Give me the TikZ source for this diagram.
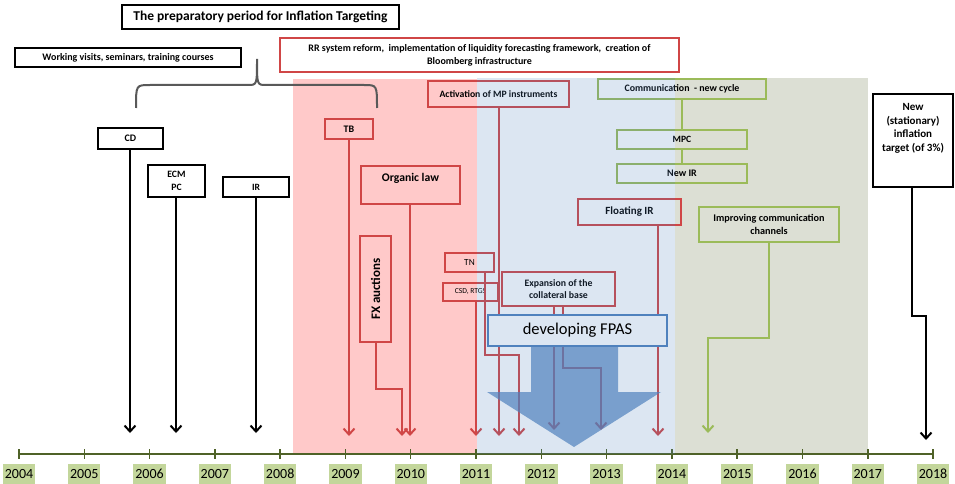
\documentclass[tikz,border=0pt]{standalone}
\usepackage{fontspec}
\setmainfont{Carlito}
\usetikzlibrary{arrows.meta}
\definecolor{rl}{RGB}{208,70,70}
\definecolor{gl}{RGB}{155,187,89}
\definecolor{bl}{RGB}{79,129,189}
\definecolor{pinkbg}{RGB}{255,201,201}
\definecolor{graybg}{RGB}{220,223,212}
\definecolor{fpasbg}{RGB}{220,230,242}
\definecolor{axc}{RGB}{79,98,40}
\definecolor{ylc}{RGB}{195,214,155}
\definecolor{brc}{RGB}{89,89,89}
\tikzset{
  box/.style={draw, line width=2pt, inner sep=0pt, align=center, font=\bfseries\fontsize{9.6}{11}\selectfont},
  bbox/.style={box, draw=black},
  rbox/.style={box, draw=rl},
  gbox/.style={box, draw=gl},
  tip/.style={-{Straight Barb[length=6pt,width=11pt]}},
  barr/.style={tip, line width=2pt, draw=black},
  rarr/.style={tip, line width=2pt, draw=rl},
  garr/.style={tip, line width=2pt, draw=gl},
  yl/.style={fill=ylc, inner xsep=2pt, inner ysep=0pt, minimum height=20pt, font=\fontsize{14}{14}\selectfont},
}
\begin{document}
\begin{tikzpicture}[x=1pt,y=-1pt]
\useasboundingbox (0,0) rectangle (955,484);
% background periods
\fill[pinkbg] (293,79) rectangle (477,454);
\fill[graybg] (675,78) rectangle (868,454);

% timeline
\coordinate (ax0) at (19,454);
\coordinate (ax1) at (933,454);
\draw[axc, line width=1.5pt] (ax0) -- (ax1);
\foreach \yr [count=\i from 0] in {2004,...,2018}{
  \draw[axc, line width=1.5pt] ({19+\i*65.29},449) -- ({19+\i*65.29},459);
  \node[yl] (y\yr) at ({19+\i*65.29},474) {\yr};
}

% top boxes
\node[bbox, minimum width=277pt, minimum height=24pt, font=\bfseries\fontsize{13.5}{15}\selectfont] (title) at (260.5,17) {The preparatory period for Inflation Targeting};
\node[bbox, minimum width=226pt, minimum height=19pt, font=\bfseries\fontsize{10}{11}\selectfont] (visits) at (128,57.5) {Working visits, seminars, training courses};
\node[rbox, minimum width=399pt, minimum height=34pt, font=\bfseries\fontsize{10}{13}\selectfont] (RR) at (479.5,55) {RR system reform, \ implementation of liquidity forecasting framework, \ creation of\\Bloomberg infrastructure};

% brace
\draw[brc, line width=2pt] (136,108) .. controls (136,85) .. (150,85) -- (248,85) .. controls (257,85) .. (257,59)
  .. controls (257,85) .. (266,85) -- (364,85) .. controls (377,85) .. (377,108);

% black early events
\node[bbox, minimum width=65pt, minimum height=21pt, font=\bfseries\fontsize{10}{11}\selectfont] (CD) at (130.5,138.5) {CD};
\node[bbox, minimum width=57pt, minimum height=32pt, font=\bfseries\fontsize{9.7}{12.7}\selectfont] (ECM) at (176.5,181) {ECM\\PC};
\node[bbox, minimum width=66pt, minimum height=20pt] (IR) at (256,187) {IR};
\coordinate (tCD) at (130,433);
\coordinate (tECM) at (176,433);
\coordinate (tIR) at (256,433);
\draw[barr] (CD.south -| tCD) -- (tCD);
\draw[barr] (ECM.south -| tECM) -- (tECM);
\draw[barr] (IR.south -| tIR) -- (tIR);

% red events
\node[rbox, minimum width=48pt, minimum height=20pt, font=\bfseries\fontsize{10}{11}\selectfont] (TB) at (349,129) {TB};
\node[rbox, minimum width=99pt, minimum height=38pt, font=\bfseries\fontsize{11.7}{16}\selectfont] (OL) at (410.5,185) {Organic law\\\mbox{}};
\node[rbox, minimum width=31pt, minimum height=106pt, font=\bfseries\fontsize{13}{14}\selectfont] (FX) at (375.5,289) {\rotatebox{90}{FX auctions}};
\node[rbox, minimum width=49pt, minimum height=19pt, font=\fontsize{9.3}{10}\selectfont] (TN) at (469.5,262.5) {TN};
\node[rbox, minimum width=55pt, minimum height=18pt, font=\fontsize{7.6}{8.5}\selectfont] (CSD) at (470.5,292) {CSD, RTGS};
\node[rbox, minimum width=141pt, minimum height=26pt, font=\bfseries\fontsize{9.7}{11}\selectfont] (Act) at (498.5,94) {Activation of MP instruments};
\node[rbox, minimum width=113pt, minimum height=34pt, font=\bfseries\fontsize{9.8}{12.3}\selectfont] (Exp) at (558.5,289) {Expansion of the\\collateral base};
\node[rbox, minimum width=103pt, minimum height=26pt, font=\bfseries\fontsize{11}{12}\selectfont] (FIR) at (629.5,212) {Floating IR};

\coordinate (tTB) at (349,436);
\coordinate (tOL) at (410,436);
\coordinate (kFX) at (402,389);
\coordinate (tFX) at (402,436);
\coordinate (kTN) at (485,355);
\coordinate (tTN) at (519,436);
\coordinate (tCSD) at (476,436);
\coordinate (tAct) at (499,436);
\coordinate (tFIR) at (658,436);
\coordinate (tEx1) at (554,430);
\coordinate (kEx2) at (563,368);
\coordinate (tEx2) at (601,430);

\draw[rarr] (TB.south) -- (tTB);
\draw[rarr] (OL.south -| tOL) -- (tOL);
\draw[rarr] (FX.south) -- (FX.south |- kFX) -| (tFX);
\draw[rarr] (TN.south -| kTN) -- (kTN) -| (tTN);
\draw[rarr] (CSD.south -| tCSD) -- (tCSD);
\draw[rarr] (Act.south -| tAct) -- (tAct);
\draw[rarr] (FIR.south -| tFIR) -- (tFIR);
\draw[rarr] (Exp.south -| tEx1) -- (tEx1);
\draw[rarr] (Exp.south -| kEx2) -- (kEx2) -| (tEx2);

% green events
\node[gbox, minimum width=168pt, minimum height=20pt, font=\bfseries\fontsize{9.9}{11}\selectfont] (Com) at (682,89) {Communication \ - new cycle};
\node[gbox, minimum width=130pt, minimum height=19pt] (MPC) at (682,139.5) {MPC};
\node[gbox, minimum width=130pt, minimum height=19pt, font=\bfseries\fontsize{10}{11}\selectfont] (NIR) at (682,173.5) {New IR};
\node[gbox, minimum width=140pt, minimum height=35pt, font=\bfseries\fontsize{10.2}{12.3}\selectfont] (Imp) at (769,224.5) {Improving communication\\channels};
\draw[gl, line width=2pt] (Com.south -| MPC.north) -- (MPC.north);
\draw[gl, line width=2pt] (MPC.south) -- (NIR.north);
\coordinate (kImp) at (769,338);
\coordinate (tImp) at (708,433);
\draw[garr] (Imp.south) -- (kImp) -| (tImp);

% blue period overlay
\fill[bl, fill opacity=0.2] (477,78) rectangle (675,454);

% FPAS
\node[draw=bl, line width=2pt, fill=fpasbg, minimum width=179pt, minimum height=31pt, inner sep=0pt, font=\fontsize{16.5}{18}\selectfont] (FPAS) at (577.5,330.5) {developing FPAS};
\fill[bl, fill opacity=0.7] (531,347) -- (618,347) -- (618,392) -- (661,392) -- (574,447) -- (487,392) -- (531,392) -- cycle;

% new target
\node[bbox, minimum width=80pt, minimum height=93pt,
  label={[anchor=north, inner sep=0pt, yshift=-10pt, align=center, font=\bfseries\fontsize{11}{13.7}\selectfont]north:New\\(stationary)\\inflation\\target (of 3\%)}] (NT) at (913,140.5) {};
\coordinate (kNT) at (912,316);
\coordinate (tNT) at (926,440);
\draw[barr] (NT.south -| kNT) -- (kNT) -| (tNT);
\end{tikzpicture}
\end{document}
